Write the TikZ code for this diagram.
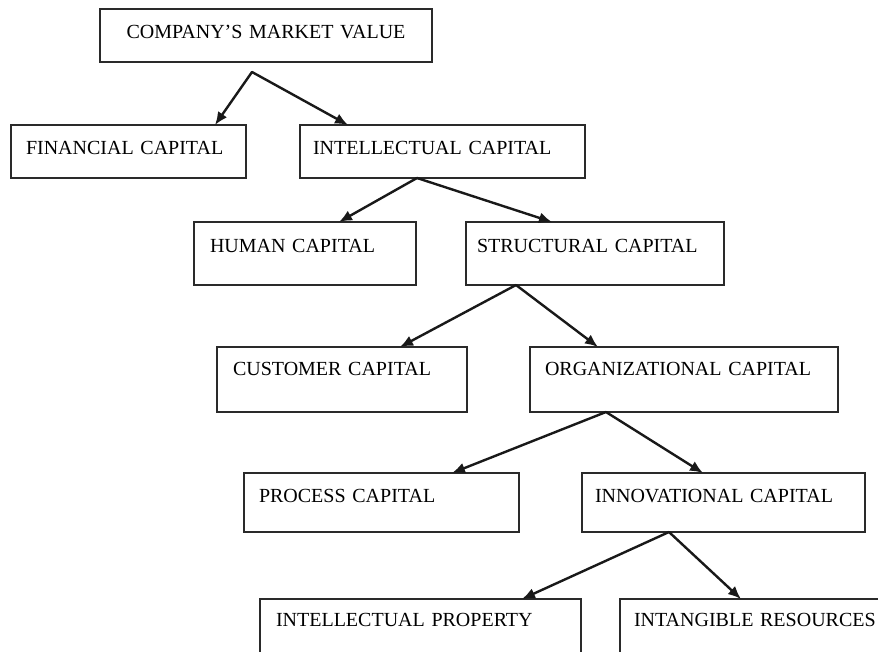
\documentclass[tikz,border=0pt]{standalone}
\usepackage{fontspec}
\setmainfont{Liberation Serif}
\usetikzlibrary{arrows.meta,calc}
\definecolor{edge}{HTML}{2A2A2A}
\begin{document}
\begin{tikzpicture}[x=1pt,y=-1pt,
  box/.style={draw=edge, line width=1.3pt, rectangle, anchor=north west, inner xsep=0pt, inner ysep=0pt, outer sep=0pt, align=left, font=\fontsize{20}{20}\selectfont},
  heavy/.style={line width=2.6pt},
  mid/.style={line width=2pt},
  arr/.style={draw=black!90, line width=2.4pt, line cap=round, -{Latex[length=13pt,width=11pt]}}
]
\useasboundingbox (0,0) rectangle (878,651);
\fill[white] (0,0) rectangle (878,651);
\node[box, mid, text width=332pt, align=center, text height=29.6pt, text depth=23.4pt] (cmv) at (100,9) {COMPANY'S MARKET VALUE};
\node[box, heavy, text width=235pt, text height=29.6pt, text depth=23.4pt] (fin) at (11,125) {\hspace*{15pt}FINANCIAL CAPITAL};
\node[box, heavy, text width=285pt, text height=29.6pt, text depth=23.4pt] (ic) at (300,125) {\hspace*{13pt}INTELLECTUAL CAPITAL};
\node[box, text width=222pt, text height=30.6pt, text depth=32.4pt] (hc) at (194,222) {\hspace*{16pt}HUMAN CAPITAL};
\node[box, text width=258pt, text height=30.6pt, text depth=32.4pt] (sc) at (466,222) {\hspace*{11pt}STRUCTURAL CAPITAL};
\node[box, text width=250pt, text height=28.6pt, text depth=36.4pt] (cc) at (217,347) {\hspace*{16pt}CUSTOMER CAPITAL};
\node[box, text width=308pt, text height=28.6pt, text depth=36.4pt] (oc) at (530,347) {\hspace*{15pt}ORGANIZATIONAL CAPITAL};
\node[box, text width=275pt, text height=29.6pt, text depth=29.4pt] (pc) at (244,473) {\hspace*{15pt}PROCESS CAPITAL};
\node[box, text width=283pt, text height=29.6pt, text depth=29.4pt] (nc) at (582,473) {\hspace*{13pt}INNOVATIONAL CAPITAL};
\node[box, text width=321pt, text height=27.6pt, text depth=60pt] (ip) at (260,599) {\hspace*{16pt}INTELLECTUAL PROPERTY};
\node[box, text width=290pt, text height=27.6pt, text depth=60pt] (ir) at (620,599) {\hspace*{14pt}INTANGIBLE RESOURCES};
% connectors
\coordinate (a1) at ($(cmv.south west)+(152,10)$);
\draw[arr] (a1) -- ($(fin.north west)+(204,0)$);
\draw[arr] (a1) -- ($(ic.north west)+(48,0)$);
\coordinate (a2) at ($(ic.south west)+(117,0)$);
\draw[arr] (a2) -- ($(hc.north west)+(145,0)$);
\draw[arr] (a2) -- ($(sc.north west)+(86,0)$);
\coordinate (a3) at ($(sc.south west)+(50,0)$);
\draw[arr] (a3) -- ($(cc.north west)+(183,0)$);
\draw[arr] (a3) -- ($(oc.north west)+(68,0)$);
\coordinate (a4) at ($(oc.south west)+(76,0)$);
\draw[arr] (a4) -- ($(pc.north west)+(208,0)$);
\draw[arr] (a4) -- ($(nc.north west)+(121,0)$);
\coordinate (a5) at ($(nc.south west)+(87,0)$);
\draw[arr] (a5) -- ($(ip.north west)+(262,0)$);
\draw[arr] (a5) -- ($(ir.north west)+(121,0)$);
\end{tikzpicture}
\end{document}
